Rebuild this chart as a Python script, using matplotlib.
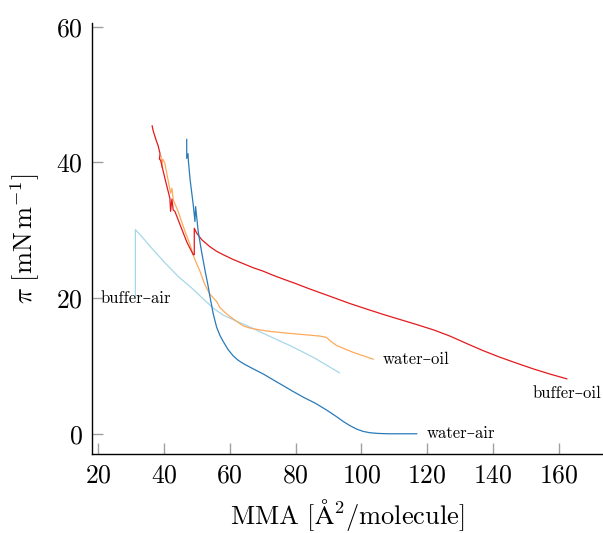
import numpy as np
import matplotlib
matplotlib.use("Agg")
import matplotlib.pyplot as plt

# --- dati (MMA in A^2/molecola, pressione in mN/m) ---
water_air_x = [46.9, 46.9, 47.3, 47.4, 47.9, 48.9, 49.4, 49.6, 50.4, 51.4, 52.5, 53.4, 54.2,
               55.0, 56.0, 57.0, 58.0, 59.5, 61.0, 62.5, 64.1, 67.0, 70.2, 73.0, 76.2,
               79.0, 82.3, 86.0, 89.4, 92.5, 94.5, 96.5, 98.5, 100.5, 102.6, 105.0,
               108.0, 116.8]
water_air_y = [43.4, 40.6, 41.3, 40.3, 37.6, 33.7, 31.3, 33.5, 29.8, 26.9, 24.0, 21.8, 19.6,
               17.6, 15.7, 14.5, 13.6, 12.4, 11.5, 10.85, 10.35, 9.6, 8.8, 8.0, 7.1,
               6.3, 5.4, 4.5, 3.5, 2.5, 1.8, 1.2, 0.7, 0.35, 0.15, 0.05,
               0.0, 0.0]

water_oil_x = [39.1, 39.3, 39.6, 40.2, 41.2, 42.0, 42.4, 42.8, 44.3, 46.4, 47.9, 49.2, 50.9,
               52.4, 53.9, 56.0, 57.0, 58.5, 60.0, 62.0, 64.1, 66.0, 68.1, 72.0, 78.3,
               84.0, 87.4, 89.4, 90.5, 92.5, 95.0, 97.5, 100.5, 103.6]
water_oil_y = [41.0, 39.3, 40.5, 40.0, 37.5, 35.5, 36.2, 34.5, 32.8, 29.8, 27.9, 25.9, 24.0,
               22.0, 20.6, 19.5, 18.6, 17.9, 17.3, 16.6, 15.9, 15.6, 15.4, 15.1, 14.8,
               14.55, 14.4, 14.2, 13.7, 13.0, 12.5, 12.0, 11.5, 11.0]

buffer_oil_x = [36.4, 36.7, 37.6, 38.2, 38.8, 38.6, 39.0, 40.3, 41.8, 42.0, 42.4, 42.8, 43.3,
                45.3, 47.0, 48.9, 49.2, 49.2, 49.9, 51.5, 53.9, 56.0, 58.0, 61.0, 64.0,
                67.0, 70.0, 73.0, 76.0, 80.0, 84.0, 90.0, 96.5, 101.5, 106.6, 111.7,
                116.8, 122.0, 126.9, 132.0, 137.0, 142.0, 147.2, 152.0, 157.3, 162.4]
buffer_oil_y = [45.4, 44.7, 43.3, 42.5, 41.3, 40.5, 40.3, 37.6, 34.7, 32.8, 34.6, 33.0, 32.8,
                30.3, 28.2, 26.4, 26.4, 30.3, 29.6, 28.6, 27.6, 26.9, 26.4, 25.7, 25.1,
                24.5, 24.0, 23.4, 22.85, 22.15, 21.4, 20.35, 19.2, 18.4, 17.6, 16.85,
                16.1, 15.3, 14.4, 13.3, 12.25, 11.3, 10.4, 9.6, 8.8, 8.1]

buffer_air_x = [31.3, 31.3, 33.2, 36.2, 40.3, 44.3, 48.4, 51.9, 55.0, 58.0, 62.0, 66.1,
                70.0, 74.0, 78.3, 82.0, 86.0, 88.4, 90.5, 93.3]
buffer_air_y = [20.0, 30.1, 29.1, 27.4, 25.2, 23.2, 21.5, 19.9, 18.5, 17.5, 16.6, 15.75,
                14.85, 13.95, 13.0, 12.1, 11.1, 10.4, 9.8, 9.0]

plt.rcParams['font.family'] = ['cmr10', 'DejaVu Serif']
plt.rcParams['mathtext.fontset'] = 'cm'
plt.rcParams['axes.formatter.use_mathtext'] = True

fig = plt.figure(figsize=(6.03, 5.33), dpi=100)
ax = fig.add_axes([0.153, 0.148, 0.847, 0.808])

lw = 0.9
ax.plot(buffer_air_x, buffer_air_y, color='#a6d7e8', lw=lw)
ax.plot(water_oil_x, water_oil_y, color='#fdaa5c', lw=lw)
ax.plot(buffer_oil_x, buffer_oil_y, color='#e31a1c', lw=lw)
ax.plot(water_air_x, water_air_y, color='#2a7ab9', lw=lw)

# etichette delle curve
fs_lab = 12
ax.text(buffer_air_x[0], buffer_air_y[0], 'buffer–air', fontsize=fs_lab,
        ha='center', va='center')
ax.text(water_oil_x[-1] + 3.0, water_oil_y[-1], 'water–oil', fontsize=fs_lab,
        ha='left', va='center')
ax.text(buffer_oil_x[-1], buffer_oil_y[-1] - 1.0, 'buffer–oil', fontsize=fs_lab,
        ha='center', va='top')
ax.text(water_air_x[-1] + 3.0, water_air_y[-1], 'water–air', fontsize=fs_lab,
        ha='left', va='center')

ax.set_xlim(18.2, 173.4)
ax.set_ylim(-3.0, 60.5)
ax.set_xticks(np.arange(20, 161, 20))
ax.set_yticks([0, 20, 40, 60])

for s in ['top', 'right']:
    ax.spines[s].set_visible(False)
for s in ['left', 'bottom']:
    ax.spines[s].set_linewidth(1.0)
    ax.spines[s].set_color('black')

ax.tick_params(direction='in', length=8, width=1.0, color='#a0a0a0',
               labelsize=18.5, pad=7)

ax.set_xlabel(r'MMA [$\mathrm{\AA}^2$/molecule]', fontsize=19, labelpad=7)
ax.set_ylabel(r'$\pi\ [\mathrm{mN\,m^{-1}}]$', fontsize=19, labelpad=10)

fig.savefig('out.png', dpi=100)
